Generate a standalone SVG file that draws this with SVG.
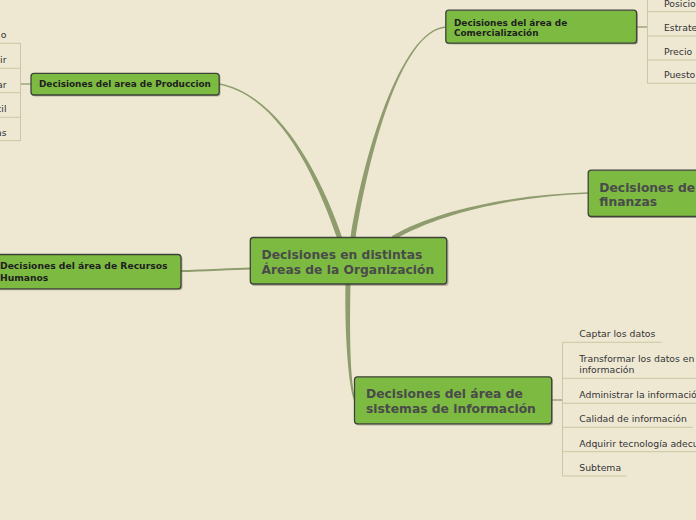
<svg xmlns="http://www.w3.org/2000/svg" width="696" height="520" viewBox="0 0 696 520">
<style>
.bg{fill:#EEE8D3}
.box{fill:#7CBA42;stroke:#3E4239;stroke-width:1.3}
.sh{fill:#4a4a3a;opacity:0.35}
.big{font-family:"DejaVu Sans",Verdana,sans-serif;font-weight:bold;font-size:12.3px;fill:#4A4A4A}
.sm{font-family:"DejaVu Sans",Verdana,sans-serif;font-weight:bold;font-size:8.9px;fill:#1E1E1E}
.leaf{font-family:"DejaVu Sans",Verdana,sans-serif;font-size:9.3px;fill:#333333}
.br{fill:#8F9C6E}
.thin{stroke:#8F9C6E;stroke-width:1.3;fill:none}
.ll{stroke:#C9C7A4;stroke-width:1;fill:none}
</style>
<rect class="bg" x="0" y="0" width="696" height="520"/>
<g id="connectors">
<path class="br" d="M342.4,238.2 C322.4,179.2 280.1,94.3 219.1,83.3 L218.9,84.7 C279.9,95.7 317.6,180.8 337.6,239.8 Z"/>
<path class="br" d="M355.5,238.4 C367.5,160.4 400.05,30.7 446.05,27.7 L445.95,26.3 C399.95,29.3 362.5,159.6 350.5,237.6 Z"/>
<path class="br" d="M394.1,239.9 C441.1,211.9 520,195.7 588,193.7 L588,192.3 C520,194.3 438.9,208.1 391.9,236.1 Z"/>
<path class="br" d="M345.5,283 C344.5,330 348.1,385.4 354.1,400.4 L355.9,399.6 C349.9,384.6 349.5,330 350.5,283 Z"/>
<path class="thin" style="stroke-width:2" d="M181,271 C210,270.5 225,269 251,268.5"/>
<path class="thin" d="M20,84 L31,84"/>
<path class="thin" d="M636.7,27 L647.5,27"/>
<path class="thin" d="M551.7,400 L562.5,400"/>
</g>
<g id="leaves-produccion">
<path class="ll" d="M20.5,43.3 V140.7 M0,43.3 H20.5 M0,68.3 H20.5 M0,92.7 H20.5 M0,117.3 H20.5 M0,140.7 H20.5"/>
<text class="leaf" x="6.5" y="38.3" text-anchor="end">o</text>
<text class="leaf" x="6.5" y="63.3" text-anchor="end">ir</text>
<text class="leaf" x="6.5" y="87.7" text-anchor="end">ar</text>
<text class="leaf" x="6.5" y="112.3" text-anchor="end">cil</text>
<text class="leaf" x="6.5" y="135.7" text-anchor="end">as</text>
</g>
<g id="leaves-comercializacion">
<path class="ll" d="M647.5,0 V83.3 M647.5,11.7 H696 M647.5,36 H696 M647.5,60 H696 M647.5,83.3 H696"/>
<text class="leaf" x="664" y="6.7">Posicio</text>
<text class="leaf" x="664" y="31">Estrate</text>
<text class="leaf" x="664" y="55">Precio</text>
<text class="leaf" x="664" y="78.3">Puesto</text>
</g>
<g id="leaves-sistemas">
<path class="ll" d="M562.5,342.3 V476 M562.5,342.3 H661.7 M562.5,378.3 H696 M562.5,403.3 H696 M562.5,427.3 H692.7 M562.5,451.7 H696 M562.5,476 H626.7"/>
<text class="leaf" x="579.3" y="337.3">Captar los datos</text>
<text class="leaf" x="579.3" y="362.3">Transformar los datos en</text>
<text class="leaf" x="579.3" y="373.3">información</text>
<text class="leaf" x="579.3" y="398.3">Administrar la información</text>
<text class="leaf" x="579.3" y="422.3">Calidad de información</text>
<text class="leaf" x="579.3" y="446.7">Adquirir tecnología adecuada</text>
<text class="leaf" x="579.3" y="471">Subtema</text>
</g>
<g id="node-central">
<rect class="sh" x="251.5" y="239" width="197" height="47" rx="3"/>
<rect class="box" x="250.3" y="237.5" width="196.4" height="46.5" rx="3"/>
<text class="big" x="261.5" y="259.3">Decisiones en distintas</text>
<text class="big" x="261.5" y="274.3">Áreas de la Organización</text>
</g>
<g id="node-produccion">
<rect class="sh" x="32" y="74.5" width="188.5" height="22" rx="3"/>
<rect class="box" x="31" y="73.3" width="188.2" height="21.7" rx="3"/>
<text class="sm" x="39" y="87.3">Decisiones del area de Produccion</text>
</g>
<g id="node-comercializacion">
<rect class="sh" x="447" y="11.5" width="191" height="33" rx="3"/>
<rect class="box" x="445.8" y="10.2" width="190.8" height="33" rx="3"/>
<text class="sm" x="454" y="25.5">Decisiones del área de</text>
<text class="sm" x="454" y="36">Comercialización</text>
</g>
<g id="node-finanzas">
<rect class="sh" x="589" y="171.5" width="120" height="46.5" rx="3"/>
<rect class="box" x="588.2" y="170.2" width="120" height="46.3" rx="3"/>
<text class="big" x="599.3" y="191.7">Decisiones de</text>
<text class="big" x="599.3" y="206">finanzas</text>
</g>
<g id="node-recursos-humanos">
<rect class="sh" x="-10" y="255.8" width="192.5" height="34.5" rx="3"/>
<rect class="box" x="-10" y="254.5" width="191" height="34.3" rx="3"/>
<text class="sm" x="0" y="269" style="font-size:9.2px">Decisiones del área de Recursos</text>
<text class="sm" x="0" y="280.7" style="font-size:9.2px">Humanos</text>
</g>
<g id="node-sistemas">
<rect class="sh" x="355.5" y="378" width="197.5" height="47.5" rx="3"/>
<rect class="box" x="354.5" y="376.8" width="197.2" height="47" rx="3"/>
<text class="big" x="366" y="398">Decisiones del área de</text>
<text class="big" x="366" y="412.5">sistemas de información</text>
</g>
</svg>
